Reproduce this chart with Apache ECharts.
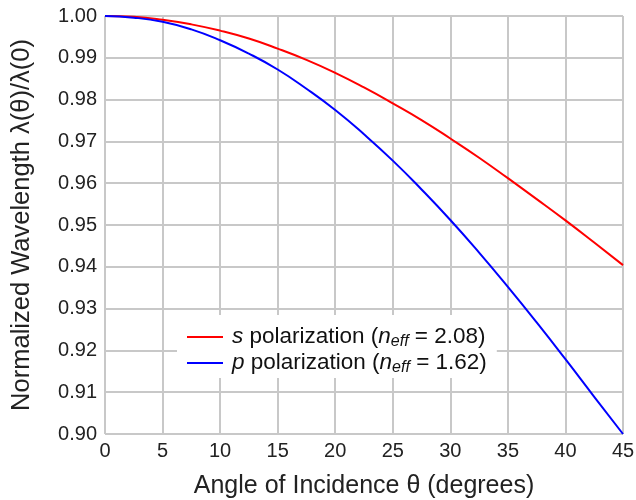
<!DOCTYPE html>
<html>
<head>
<meta charset="utf-8">
<script src="https://cdn.jsdelivr.net/npm/echarts@6/dist/echarts.min.js"></script>
<style>
  html, body { margin: 0; padding: 0; background: #fff; }
  #chart { width: 636px; height: 500px; }
</style>
</head>
<body>
<div id="chart"></div>
<script>
// angle of incidence (degrees)
var angles = [0, 2.5, 5, 7.5, 10, 12.5, 15, 17.5, 20, 22.5, 25, 27.5, 30, 32.5, 35, 37.5, 40, 42.5, 45]
// normalized wavelength, s polarization (n_eff = 2.08)
var sValues = [1.0000, 0.9998, 0.9991, 0.9980, 0.9965, 0.9946, 0.9922, 0.9895, 0.9864, 0.9829,
  0.9791, 0.9751, 0.9707, 0.9661, 0.9612, 0.9562, 0.9511, 0.9458, 0.9404]
// normalized wavelength, p polarization (n_eff = 1.62)
var pValues = [1.0000, 0.9996, 0.9986, 0.9968, 0.9942, 0.9910, 0.9872, 0.9826, 0.9775, 0.9717,
  0.9654, 0.9585, 0.9512, 0.9434, 0.9352, 0.9267, 0.9179, 0.9089, 0.9000]
var seriesNames = ['s polarization', 'p polarization']
var legendLabels = {
  's polarization': '{i|s} polarization ({i|n}{sub|eff} = 2.08)',
  'p polarization': '{i|p} polarization ({i|n}{sub|eff} = 1.62)'
}

function pairs (xs, ys) {
  return xs.map(function (x, i) { return [x, ys[i]] })
}

var font = 'Liberation Sans, Arial, sans-serif'
var chart = echarts.init(document.getElementById('chart'))

chart.setOption({
  animation: false,
  grid: {
    left: 105,
    right: 13,
    top: 16,
    bottom: 66,
    outerBoundsMode: 'none'
  },
  legend: {
    data: seriesNames,
    left: 177,
    top: 315,
    orient: 'vertical',
    backgroundColor: '#fff',
    padding: [9, 10, 2, 10],
    itemGap: 0,
    itemWidth: 36,
    itemHeight: 14,
    icon: 'path://M0,6 L36,6 L36,8 L0,8 Z',
    formatter: function (name) { return legendLabels[name] },
    textStyle: {
      fontFamily: font,
      fontSize: 22.5,
      lineHeight: 26,
      color: '#111',
      padding: [0, 0, 0, 4],
      rich: {
        i: { fontFamily: font, fontSize: 22.5, lineHeight: 26, fontStyle: 'italic', color: '#111' },
        sub: { fontFamily: font, fontSize: 16, lineHeight: 26, fontStyle: 'italic', color: '#111', padding: [9, 0, 0, 0] }
      }
    }
  },
  xAxis: {
    type: 'value',
    min: 0,
    max: 45,
    interval: 5,
    name: 'Angle of Incidence θ (degrees)',
    nameLocation: 'middle',
    nameGap: 40,
    nameTextStyle: { fontFamily: font, fontSize: 25, color: '#222' },
    axisLine: { show: false },
    axisTick: { show: false },
    axisLabel: { fontFamily: font, fontSize: 20, color: '#222', margin: 7 },
    splitLine: { show: true, lineStyle: { color: '#c8c8c8', width: 2 } }
  },
  yAxis: {
    type: 'value',
    min: 0.90,
    max: 1.00,
    interval: 0.01,
    name: 'Normalized Wavelength λ(θ)/λ(0)',
    nameLocation: 'middle',
    nameGap: 70,
    nameTextStyle: { fontFamily: font, fontSize: 25.5, color: '#222' },
    axisLine: { show: false },
    axisTick: { show: false },
    axisLabel: {
      fontFamily: font,
      fontSize: 20,
      color: '#222',
      margin: 8,
      formatter: function (v) { return v.toFixed(2) }
    },
    splitLine: { show: true, lineStyle: { color: '#c8c8c8', width: 2 } }
  },
  series: [
    {
      name: seriesNames[0],
      type: 'line',
      data: pairs(angles, sValues),
      smooth: true,
      showSymbol: false,
      color: '#ff0000',
      lineStyle: { color: '#ff0000', width: 2 }
    },
    {
      name: seriesNames[1],
      type: 'line',
      data: pairs(angles, pValues),
      smooth: true,
      showSymbol: false,
      color: '#0000ff',
      lineStyle: { color: '#0000ff', width: 2 }
    }
  ]
})
</script>
</body>
</html>
